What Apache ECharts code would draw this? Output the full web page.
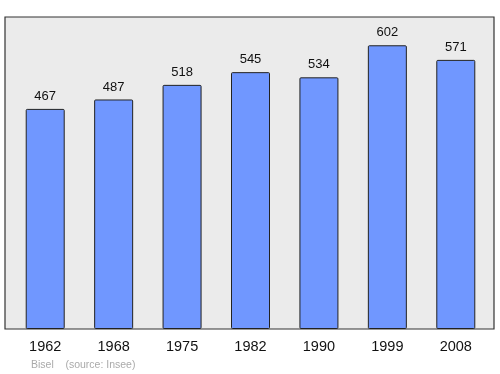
<!DOCTYPE html>
<html>
<head>
<meta charset="utf-8">
<script src="https://cdn.jsdelivr.net/npm/echarts@6/dist/echarts.min.js"></script>
<style>html,body{margin:0;padding:0;background:#fff}#c{width:500px;height:374px}</style>
</head>
<body>
<div id="c"></div>
<script>
const years = ['1962','1968','1975','1982','1990','1999','2008'];
const population = [467, 487, 518, 545, 534, 602, 571];
const footerText = 'Bisel    (source: Insee)';

const chart = echarts.init(document.getElementById('c'), null, {renderer:'canvas'});
chart.setOption({
  animation: false,
  grid: [
    {left: 5, right: 6, top: 17, bottom: 45, show: true, backgroundColor: '#ebebeb', borderColor: '#333', borderWidth: 1.2},
    {left: 11, right: 10, top: 17, bottom: 45}
  ],
  xAxis: [
    {gridIndex: 0, type: 'value', show: false, min: 0, max: 1},
    {gridIndex: 1, type: 'category', data: years, axisLine: {show: false}, axisTick: {show: false},
     axisLabel: {color: '#111', fontSize: 14.5, fontFamily: 'Liberation Sans, Arial, sans-serif', margin: 10}}
  ],
  yAxis: [
    {gridIndex: 0, type: 'value', show: false, min: 0, max: 1},
    {gridIndex: 1, type: 'value', min: 0, max: 662, show: false}
  ],
  series: [{
    type: 'bar', xAxisIndex: 1, yAxisIndex: 1, data: population, barWidth: 39,
    itemStyle: {color: '#7097ff', borderColor: '#222', borderWidth: 1, borderRadius: 1},
    label: {show: true, position: 'top', distance: 6, color: '#111', fontSize: 13, fontFamily: 'Liberation Sans, Arial, sans-serif'}
  }],
  graphic: [{type: 'text', left: 31, top: 360, style: {text: footerText, fill: '#aaa', fontSize: 10.5, fontFamily: 'Liberation Sans, Arial, sans-serif'}}]
});
</script>
</body>
</html>
